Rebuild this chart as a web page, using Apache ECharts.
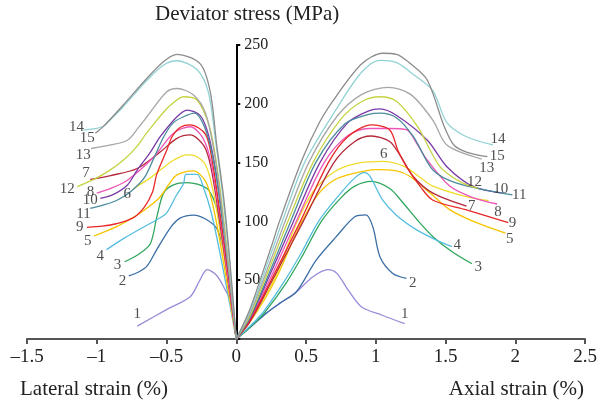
<!DOCTYPE html>
<html>
<head>
<meta charset="utf-8">
<script src="https://cdn.jsdelivr.net/npm/echarts/dist/echarts.min.js"></script>
<style>
  html, body { margin: 0; padding: 0; background: #fff; }
  #chart { width: 601px; height: 407px; }
</style>
</head>
<body>
<div id="chart"></div>
<script>
// curve numbers and colours
const curveNames = ['1', '2', '3', '4', '5', '6', '7', '8', '9', '10', '11', '12', '13', '14', '15'];
const curveColors = ['#9a8ad8', '#3c6fa6', '#2fa65c', '#55bde0', '#f6c500', '#f0dc2c', '#b4283a',
  '#ee55b8', '#e82828', '#7a3aa6', '#4a8b9c', '#c6d444', '#a6a6a6', '#92d2d4', '#8c8c8c'];

// lateral strain (%) vs deviator stress (MPa), from curve end to origin
const lateral1 = [[-0.71, 11], [-0.5, 25], [-0.33, 36], [-0.27, 48], [-0.234, 56], [-0.21, 59], [-0.14, 54], [-0.08, 42], [-0.043, 33], [-0.02, 18], [0, 0]];
const lateral2 = [[-0.77, 53.6], [-0.7, 57], [-0.64, 62], [-0.57, 76], [-0.47, 95], [-0.4, 103], [-0.306, 105.4], [-0.22, 102], [-0.14, 94], [-0.1, 80], [-0.067, 62], [-0.035, 33], [0, 0]];
const lateral3 = [[-0.8, 65.7], [-0.7, 72], [-0.616, 81], [-0.569, 104], [-0.521, 124], [-0.45, 131], [-0.353, 133], [-0.21, 128], [-0.15, 115], [-0.11, 95], [-0.075, 68], [-0.04, 36], [0, 0]];
const lateral4 = [[-0.93, 76], [-0.8, 86], [-0.66, 95.5], [-0.56, 102], [-0.5, 107], [-0.43, 122], [-0.378, 132], [-0.36, 140], [-0.28, 140], [-0.237, 129.5], [-0.18, 108], [-0.12, 75], [-0.06, 38], [0, 0]];
const lateral5 = [[-1.02, 87.6], [-0.85, 96], [-0.71, 105.4], [-0.62, 113], [-0.545, 121], [-0.48, 132], [-0.425, 139.5], [-0.306, 143], [-0.22, 134], [-0.17, 115], [-0.12, 85], [-0.06, 43], [0, 0]];
const lateral6 = [[-0.736, 128], [-0.616, 137], [-0.545, 143.7], [-0.45, 152], [-0.353, 156.5], [-0.3, 156], [-0.22, 148], [-0.17, 128], [-0.12, 95], [-0.06, 48], [0, 0]];
const lateral7 = [[-1.047, 135.8], [-0.9, 139], [-0.71, 145], [-0.545, 159], [-0.425, 170.6], [-0.33, 173.5], [-0.23, 164], [-0.18, 145], [-0.125, 105], [-0.065, 55], [0, 0]];
const lateral8 = [[-1.0, 124], [-0.9, 128], [-0.78, 135], [-0.59, 155], [-0.45, 175], [-0.33, 180.5], [-0.24, 171], [-0.18, 150], [-0.125, 110], [-0.065, 57], [0, 0]];
const lateral9 = [[-1.07, 95], [-0.96, 96], [-0.86, 98], [-0.74, 103], [-0.66, 112], [-0.6, 125], [-0.57, 140], [-0.5, 160], [-0.46, 172], [-0.4, 180], [-0.33, 182], [-0.22, 174], [-0.17, 150], [-0.12, 110], [-0.06, 58], [0, 0]];
const lateral10 = [[-0.975, 119.6], [-0.88, 123], [-0.78, 131], [-0.71, 143.7], [-0.62, 158], [-0.545, 172], [-0.425, 189], [-0.353, 194.7], [-0.258, 190], [-0.2, 174], [-0.15, 145], [-0.1, 105], [-0.05, 55], [0, 0]];
const lateral11 = [[-1.047, 111], [-0.95, 114], [-0.855, 118], [-0.76, 125], [-0.66, 137], [-0.59, 154], [-0.52, 172], [-0.45, 184], [-0.378, 189], [-0.3, 192], [-0.22, 178], [-0.16, 150], [-0.11, 110], [-0.055, 58], [0, 0]];
const lateral12 = [[-1.14, 129.5], [-1.0, 137], [-0.9, 144], [-0.8, 153], [-0.71, 164], [-0.65, 174], [-0.59, 183], [-0.52, 193], [-0.47, 199], [-0.378, 206], [-0.28, 203], [-0.19, 180], [-0.14, 148], [-0.1, 112], [-0.05, 58], [0, 0]];
const lateral13 = [[-1.04, 162], [-0.9, 165], [-0.78, 169], [-0.7, 180], [-0.64, 189], [-0.5, 210], [-0.425, 213], [-0.306, 207.5], [-0.22, 192], [-0.16, 160], [-0.11, 118], [-0.055, 60], [0, 0]];
const lateral14 = [[-1.095, 177.7], [-0.96, 180.5], [-0.89, 188], [-0.81, 197.5], [-0.64, 220], [-0.52, 233], [-0.425, 236.6], [-0.28, 229], [-0.2, 210], [-0.15, 170], [-0.1, 125], [-0.05, 68], [0, 0]];
const lateral15 = [[-1.01, 175], [-0.95, 181], [-0.81, 199], [-0.64, 221.7], [-0.52, 236], [-0.425, 242], [-0.258, 234], [-0.186, 210], [-0.14, 165], [-0.09, 120], [-0.045, 65], [0, 0]];

// axial strain (%) vs deviator stress (MPa), from origin to curve end
const axial1 = [[0, 0], [0.1, 10], [0.215, 22], [0.32, 31], [0.43, 40], [0.55, 53], [0.657, 59], [0.72, 56], [0.8, 42], [0.896, 27.5], [1.05, 20], [1.207, 13]];
const axial2 = [[0, 0], [0.1, 10], [0.215, 22], [0.32, 31], [0.43, 40], [0.573, 67], [0.717, 87], [0.85, 104], [0.93, 105.5], [0.98, 95], [1.03, 70], [1.12, 56], [1.22, 51.5]];
const axial3 = [[0, 0], [0.1, 10], [0.2, 22], [0.36, 48], [0.48, 72], [0.61, 100], [0.75, 120], [0.85, 130], [0.968, 134], [1.1, 128], [1.18, 118], [1.3, 101], [1.41, 87], [1.55, 74], [1.69, 64]];
const axial4 = [[0, 0], [0.1, 11], [0.2, 24], [0.35, 50], [0.47, 74], [0.59, 100], [0.72, 120], [0.85, 137], [0.92, 141.4], [0.96, 138], [1.05, 118], [1.15, 105], [1.29, 93], [1.42, 85], [1.546, 78.5]];
const axial5 = [[0, 0], [0.1, 15], [0.2, 33], [0.3, 55], [0.45, 95], [0.58, 122], [0.7, 135], [0.85, 141], [1.0, 144], [1.15, 143], [1.25, 138], [1.4, 123], [1.53, 110], [1.7, 100], [1.93, 90]];
const axial6 = [[0, 0], [0.1, 15], [0.2, 34], [0.3, 58], [0.43, 98], [0.55, 125], [0.7, 142], [0.85, 149], [1.05, 151], [1.2, 147], [1.3, 139], [1.41, 130], [1.65, 121], [1.81, 117.6]];
const axial7 = [[0, 0], [0.1, 15], [0.25, 48], [0.48, 100], [0.7, 150], [0.85, 168], [0.968, 172.6], [1.1, 168], [1.18, 155], [1.27, 138], [1.41, 124], [1.65, 113]];
const axial8 = [[0, 0], [0.1, 17], [0.25, 53], [0.43, 100], [0.63, 150], [0.8, 173], [0.95, 179], [1.1, 179], [1.22, 178], [1.3, 165], [1.37, 152], [1.53, 130], [1.7, 120], [1.87, 114.8]];
const axial9 = [[0, 0], [0.1, 16], [0.25, 50], [0.46, 100], [0.66, 150], [0.8, 172], [0.97, 182], [1.1, 177.7], [1.16, 160], [1.22, 146.5], [1.32, 129.5], [1.41, 118], [1.65, 109.7], [1.95, 99]];
const axial10 = [[0, 0], [0.1, 18], [0.25, 57], [0.41, 100], [0.6, 150], [0.8, 184], [0.95, 194], [1.03, 195.6], [1.15, 190], [1.37, 169], [1.51, 146.5], [1.7, 129.5], [1.91, 124]];
const axial11 = [[0, 0], [0.1, 19], [0.25, 60], [0.39, 100], [0.57, 150], [0.78, 183], [0.95, 191], [1.03, 192], [1.15, 188], [1.27, 172], [1.41, 143.7], [1.58, 132.6], [1.98, 122.5]];
const axial12 = [[0, 0], [0.1, 20], [0.25, 64], [0.37, 100], [0.55, 150], [0.75, 187], [0.9, 202], [1.03, 206], [1.15, 202], [1.3, 180.5], [1.46, 146.5], [1.6, 134], [1.73, 128]];
const axial13 = [[0, 0], [0.1, 22], [0.25, 68], [0.35, 100], [0.52, 150], [0.72, 189], [0.9, 208], [1.09, 214], [1.25, 208], [1.41, 186], [1.51, 165], [1.76, 153]];
const axial14 = [[0, 0], [0.1, 24], [0.25, 73], [0.33, 100], [0.49, 150], [0.72, 196], [0.9, 227], [1.03, 237], [1.15, 235], [1.28, 224], [1.41, 211], [1.51, 184], [1.65, 172], [1.84, 165]];
const axial15 = [[0, 0], [0.1, 26], [0.25, 78], [0.31, 100], [0.47, 152], [0.6, 185], [0.72, 207], [0.9, 234], [1.05, 243], [1.15, 242], [1.25, 234], [1.37, 220], [1.49, 181], [1.56, 165], [1.65, 159], [1.8, 155]];

const lateralCurves = [lateral1, lateral2, lateral3, lateral4, lateral5, lateral6, lateral7, lateral8,
  lateral9, lateral10, lateral11, lateral12, lateral13, lateral14, lateral15];
const axialCurves = [axial1, axial2, axial3, axial4, axial5, axial6, axial7, axial8,
  axial9, axial10, axial11, axial12, axial13, axial14, axial15];

// x axis tick labels
const xTicks = [-1.5, -1, -0.5, 0, 0.5, 1, 1.5, 2, 2.5];

// where the number label sits next to its curve end: [position, dx, dy]
const lateralLabelStyle = [
  ['top', 0, 0], ['left', 2, 5], ['left', 1, 3], ['left', 2, 6], ['left', 2, 5],
  ['left', 2, 6], ['left', 4, -6], ['left', 2, -1], ['left', 1, 0], ['left', 2, 2],
  ['left', 5, 6], ['left', 2, 2], ['bottom', -8, -5], ['left', 5, -3], ['left', 4, 5]
];
const axialLabelStyle = [
  ['top', 0, 2], ['right', -2, 5], ['right', -2, 3], ['right', -3, -2], ['right', -4, 6],
  ['top', 1, 5], ['right', -3, 0], ['bottom', 1, -4], ['right', -4, 0], ['top', -2, 8],
  ['right', -5, 0], ['top', -3, 6], ['right', -7, 9], ['right', -7, -6], ['right', -2, -1]
];

const serif = '"Liberation Serif", "DejaVu Serif", serif';
const gridLeft = 27;
const gridRight = 16;
const chartWidth = 601;
const xMin = -1.5;
const xMax = 2.5;
// shift of the stress axis from the grid's left edge to x = 0
const yAxisShift = (chartWidth - gridLeft - gridRight) * (0 - xMin) / (xMax - xMin);

const chart = echarts.init(document.getElementById('chart'));

const series = [];
const labelData = [];
curveNames.forEach((name, i) => {
  const base = {
    type: 'line',
    smooth: 0.3,
    symbol: 'none',
    silent: true,
    lineStyle: { color: curveColors[i], width: 1.3 },
    z: 2
  };
  series.push(Object.assign({}, base, { name: 'L' + name, data: lateralCurves[i] }));
  series.push(Object.assign({}, base, { name: 'A' + name, data: axialCurves[i] }));

  const ls = lateralLabelStyle[i];
  labelData.push({
    value: lateralCurves[i][0],
    name: name,
    label: { position: ls[0], offset: [ls[1], ls[2]] }
  });
  const ax = axialCurves[i];
  // curve 6 is labelled at its peak, the others at their end
  let k = ax.length - 1;
  if (name === '6') {
    k = ax.reduce((best, p, j) => (p[1] > ax[best][1] ? j : best), 0);
  }
  const as = axialLabelStyle[i];
  labelData.push({
    value: ax[k],
    name: name,
    label: { position: as[0], offset: [as[1], as[2]] }
  });
});

series.push({
  type: 'scatter',
  data: labelData,
  symbolSize: 1,
  silent: true,
  itemStyle: { color: 'rgba(0,0,0,0)' },
  label: {
    show: true,
    formatter: (p) => p.name,
    distance: 4,
    color: '#222',
    fontFamily: serif,
    fontSize: 15
  },
  z: 5
});

chart.setOption({
  animation: false,
  title: {
    text: 'Deviator stress (MPa)',
    left: 150,
    top: -1,
    textStyle: { fontFamily: serif, fontSize: 21, fontWeight: 'normal', color: '#222' }
  },
  grid: { left: gridLeft, right: gridRight, top: 45, bottom: 68 },
  xAxis: {
    type: 'value',
    min: xMin,
    max: xMax,
    interval: 0.5,
    axisLine: { onZero: false, lineStyle: { color: '#555', width: 2 } },
    axisTick: { length: 5, lineStyle: { color: '#555', width: 2 } },
    axisLabel: {
      margin: 9,
      color: '#222',
      fontFamily: serif,
      fontSize: 19,
      formatter: (v) => {
        const t = xTicks.find((x) => Math.abs(x - v) < 1e-9);
        if (t === undefined) return '';
        return t < 0 ? '\u2013' + Math.abs(t) : String(t);
      }
    },
    splitLine: { show: false }
  },
  yAxis: {
    type: 'value',
    min: 0,
    max: 250,
    interval: 50,
    position: 'left',
    offset: -yAxisShift,
    axisLine: { show: true, onZero: false, lineStyle: { color: '#000', width: 2 } },
    axisTick: { show: true, inside: true, length: 4, lineStyle: { color: '#000', width: 2 } },
    axisLabel: {
      inside: true,
      margin: 8,
      color: '#222',
      fontFamily: serif,
      fontSize: 16,
      formatter: (v) => (v === 0 ? '' : String(v))
    },
    splitLine: { show: false }
  },
  graphic: [
    {
      type: 'text',
      left: 20,
      top: 379,
      style: { text: 'Lateral strain (%)', font: '21px ' + serif, fill: '#222' }
    },
    {
      type: 'text',
      right: 17,
      top: 379,
      style: { text: 'Axial strain (%)', font: '21px ' + serif, fill: '#222' }
    }
  ],
  series: series
});
</script>
</body>
</html>
